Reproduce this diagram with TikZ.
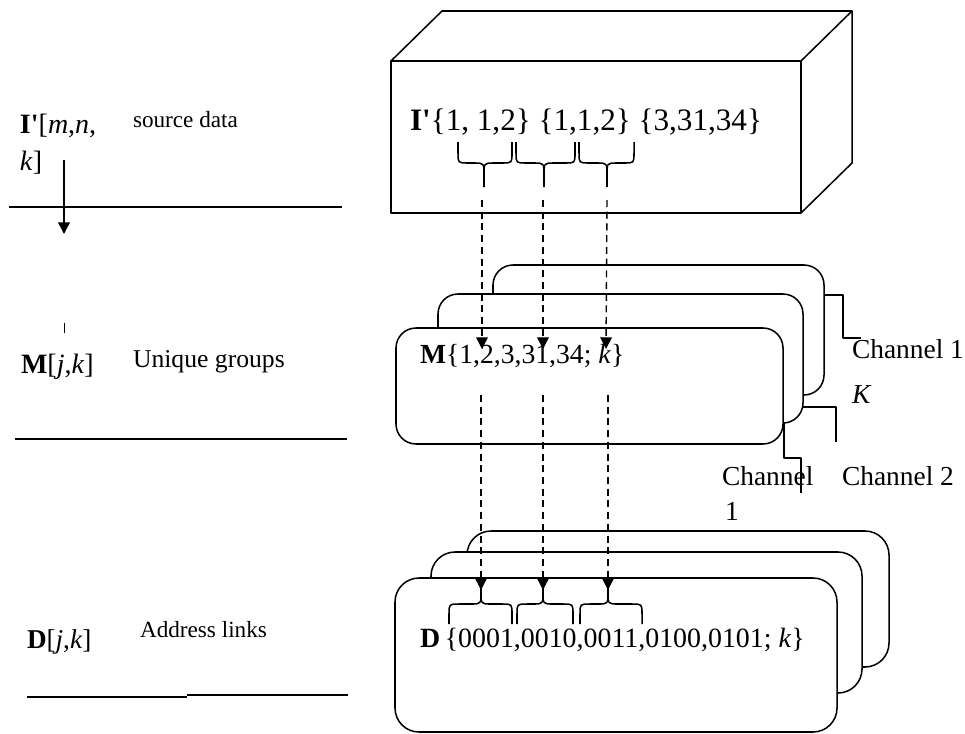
\documentclass[tikz,border=0pt]{standalone}
\usepackage{fontspec}
\setmainfont{Liberation Serif}
\usetikzlibrary{arrows.meta}
\newcommand{\myfs}[1]{\fontsize{#1pt}{#1pt}\selectfont}
% #1 x1, #2 x2, #3 xm, #4 y ends, #5 y arms, #6 y tip, #7 sign (1: tip below, -1: tip above)
\newcommand{\mybrace}[7]{%
  \draw[bracestyle] (#1,#4) -- (#1,{#5-10*(#7)}) .. controls (#1,#5) .. (#1+10,#5) -- (#3-10,#5) .. controls (#3,#5) .. (#3,{#5+12*(#7)}) -- (#3,#6);
  \draw[bracestyle] (#2,#4) -- (#2,{#5-10*(#7)}) .. controls (#2,#5) .. (#2-10,#5) -- (#3+10,#5) .. controls (#3,#5) .. (#3,{#5+12*(#7)});
}
\begin{document}
\begin{tikzpicture}[x=0.03cm,y=-0.03cm,line width=1.3pt,line join=round,
  lbl/.style={anchor=base west,inner sep=0pt,outer sep=0pt},
  card/.style={draw,fill=white,rounded corners=0.6cm},
  dcard/.style={draw,fill=white,rounded corners=0.72cm},
  bracestyle/.style={line width=1.3pt},
  dashconn/.style={line width=1.2pt,dash pattern=on 6pt off 4pt,-{Triangle[length=10pt,width=10pt]}},
  flowarrow/.style={-{Triangle[length=10pt,width=10pt]}}]
\useasboundingbox (0,0) rectangle (965,733);

% ---------- left column ----------
\node[lbl,font=\myfs{23.9}] (il) at (20,133) {\textbf{I\textquotesingle}[\textit{m},\textit{n},};
\node[lbl,font=\myfs{23.9}] (il2) at (20,170) {\textit{k}]};
\node[lbl,font=\myfs{19.8}] (src) at (133,128) {source data};
\coordinate (fa) at (64,160);
\coordinate (fb) at (64,234);
\draw[flowarrow] (fa) -- (fb);
\draw (9,207) -- (342,207);
\coordinate (tk1) at (64,323);
\coordinate (tk2) at (64,333);
\draw[line width=0.8pt] (tk1) -- (tk2);
\node[lbl,font=\myfs{23.9}] (ml) at (21,373) {\textbf{M}[\textit{j},\textit{k}]};
\node[lbl,font=\myfs{21.9}] (ug) at (133,367) {Unique groups};
\draw (15,439) -- (347,439);
\node[lbl,font=\myfs{23.2}] (dl) at (27,648) {\textbf{D}[\textit{j},\textit{k}]};
\node[lbl,font=\myfs{19.8}] (al) at (140,637) {Address links};
\draw (27,697) -- (187,697);
\draw (187,695) -- (348,695);

% ---------- source data cuboid ----------
\draw (391,61) rectangle (801,213);
\draw (391,61) -- (442,11) -- (852,11) -- (801,61);
\draw (852,11) -- (852,163) -- (801,213);
\node[lbl,font=\myfs{26.6}] (itext) at (410,130)
  {\textbf{I\textquotesingle}\{1, 1,2\} \{1,1,2\} \{3,31,34\}};
\mybrace{458}{512}{484}{142}{163}{187}{1}
\mybrace{516}{575}{544}{142}{163}{187}{1}
\mybrace{579}{634}{607}{142}{163}{187}{1}

% ---------- M cards ----------
\draw[card] (493,265) rectangle (824,395);
\draw[card] (438,294) rectangle (803,423);
\draw[card] (396,328) rectangle (783,444);
\node[lbl,font=\myfs{23.6}] (mtext) at (420,363) {\textbf{M}\{1,2,3,31,34; \textit{k}\}};

% channel leaders
\draw (824,295) -- (843,295) -- (843,338) -- (861,338);
\node[lbl,font=\myfs{23.4}] (ch1k) at (852,358) {Channel 1};
\node[lbl,font=\myfs{23.4}] (kk) at (852,403) {\textit{K}};
\draw (803,407) -- (836,407) -- (836,442);
\node[lbl,font=\myfs{23.4}] (ch2) at (842,485) {Channel 2};
\node[lbl,font=\myfs{23.4}] (ch1) at (722,485) {Channel};
\node[lbl,font=\myfs{23.4}] (ch1b) at (725,520) {1};
\draw (784,423) -- (784,458) -- (801,458) -- (801,493);

% ---------- D cards ----------
\draw[dcard] (467,531) rectangle (889,667);
\draw[dcard] (431,552) rectangle (862,693);
\draw[dcard] (395,578) rectangle (837,732);
\node[lbl,font=\myfs{23.8}] (dtext) at (420,647) {\textbf{D}\,\{0001,0010,0011,0100,0101; \textit{k}\}};
\mybrace{449}{512}{481}{624}{604}{588}{-1}
\mybrace{517}{573}{543}{624}{604}{588}{-1}
\mybrace{580}{642}{608}{624}{604}{588}{-1}

% ---------- dashed connectors ----------
\coordinate (t1) at (482,200);
\coordinate (t2) at (543,200);
\coordinate (t3) at (607,200);
\coordinate (m1) at (482,349);
\coordinate (m2) at (543,349);
\coordinate (m3) at (606,349);
\coordinate (n1) at (481,395);
\coordinate (n2) at (543,395);
\coordinate (n3) at (608,395);
\coordinate (d1) at (481,590);
\coordinate (d2) at (543,590);
\coordinate (d3) at (608,590);
\draw[dashconn] (t1) -- (m1);
\draw[dashconn] (t2) -- (m2);
\draw[dashconn] (t3) -- (m3);
\draw[dashconn] (n1) -- (d1);
\draw[dashconn] (n2) -- (d2);
\draw[dashconn] (n3) -- (d3);
\end{tikzpicture}
\end{document}
